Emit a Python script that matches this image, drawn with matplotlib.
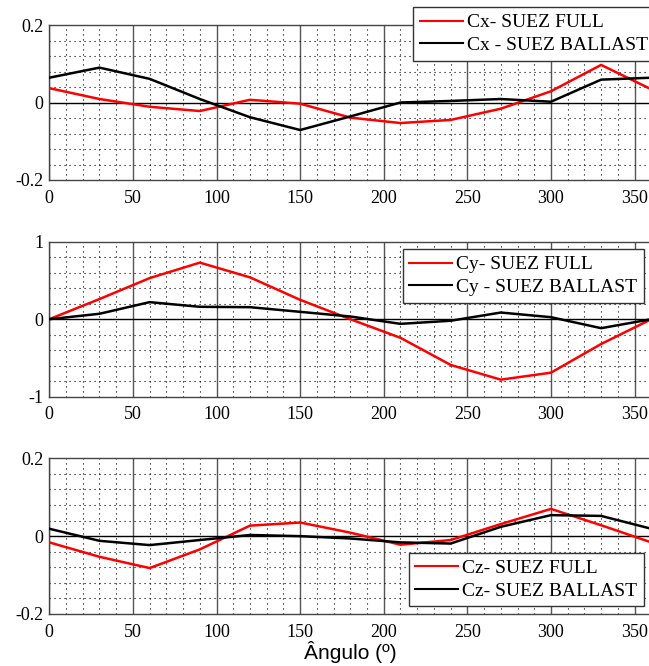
import matplotlib
matplotlib.use("Agg")
import matplotlib.pyplot as plt
from matplotlib.ticker import MultipleLocator

# Wind-load coefficients vs. heading angle, loaded and ballast condition
angles = [0, 30, 60, 90, 120, 150, 180, 210, 240, 270, 300, 330, 360]

cx_full = [0.037, 0.009, -0.011, -0.022, 0.007, -0.003, -0.039, -0.053, -0.045, -0.016, 0.029, 0.097, 0.034]
cx_ballast = [0.064, 0.090, 0.061, 0.009, -0.038, -0.071, -0.036, 0.0, 0.004, 0.009, 0.002, 0.059, 0.064]

cy_full = [0.0, 0.26, 0.53, 0.73, 0.54, 0.25, 0.0, -0.24, -0.59, -0.78, -0.69, -0.32, 0.0]
cy_ballast = [0.0, 0.07, 0.22, 0.16, 0.155, 0.095, 0.035, -0.06, -0.02, 0.086, 0.026, -0.116, 0.0]

cz_full = [-0.016, -0.053, -0.082, -0.034, 0.027, 0.035, 0.009, -0.022, -0.010, 0.031, 0.070, 0.028, -0.016]
cz_ballast = [0.019, -0.012, -0.023, -0.010, 0.003, 0.0, -0.006, -0.016, -0.019, 0.024, 0.054, 0.052, 0.019]

panels = [
    dict(full=cx_full, ballast=cx_ballast, lim=0.2, minor=0.04,
         labels=("Cx- SUEZ FULL", "Cx - SUEZ BALLAST"), anchor=(0.6045, 1.116)),
    dict(full=cy_full, ballast=cy_ballast, lim=1.0, minor=0.2,
         labels=("Cy- SUEZ FULL", "Cy - SUEZ BALLAST"), anchor=(0.587, 0.953)),
    dict(full=cz_full, ballast=cz_ballast, lim=0.2, minor=0.04,
         labels=("Cz- SUEZ FULL", "Cz- SUEZ BALLAST"), anchor=(0.597, 0.394)),
]

W, H = 649, 666
fig = plt.figure(figsize=(W / 100, H / 100), dpi=100)

serif = "Liberation Serif"
boxes_px = [(25, 180), (241.7, 396.7), (458.3, 614)]
left_px, width_px = 49.3, 602

for p, (top, bot) in zip(panels, boxes_px):
    ax = fig.add_axes([left_px / W, 1 - bot / H, width_px / W, (bot - top) / H])
    ax.set_xlim(0, 360)
    lim = p["lim"]
    ax.set_ylim(-lim, lim)

    ax.xaxis.set_major_locator(MultipleLocator(50))
    ax.xaxis.set_minor_locator(MultipleLocator(10))
    ax.yaxis.set_major_locator(MultipleLocator(lim))
    ax.yaxis.set_minor_locator(MultipleLocator(p["minor"]))

    ax.grid(which="minor", color="black", linestyle=(0, (1, 3.5)), linewidth=0.8)
    ax.grid(which="major", axis="x", color="#555555", linestyle="-", linewidth=1.0)
    ax.axhline(0, color="black", linewidth=1.0, zorder=1.5)
    ax.set_axisbelow(True)

    ax.tick_params(which="both", length=0)
    ax.tick_params(axis="x", pad=7)
    ax.tick_params(axis="y", pad=4)
    ax.set_yticks([-lim, 0, lim])
    ax.set_yticklabels([f"{-lim:g}", "0", f"{lim:g}"])
    for lab in ax.get_xticklabels() + ax.get_yticklabels():
        lab.set_fontfamily(serif)
        lab.set_fontsize(13)

    for s in ax.spines.values():
        s.set_color("#444444")
        s.set_linewidth(1.0)

    ax.plot(angles, p["full"], color="#ff0000", linewidth=1.8, label=p["labels"][0], zorder=3)
    ax.plot(angles, p["ballast"], color="black", linewidth=1.8, label=p["labels"][1], zorder=3)

    leg = ax.legend(loc="upper left", bbox_to_anchor=p["anchor"], bbox_transform=ax.transAxes,
                    prop={"family": serif, "size": 14}, frameon=True, fancybox=False,
                    borderpad=0.35, labelspacing=0.25, handlelength=2.2, handletextpad=0.2,
                    borderaxespad=0.0)
    leg.get_frame().set_edgecolor("#333333")
    leg.get_frame().set_linewidth(1.0)
    leg.get_frame().set_alpha(1.0)
    leg.set_zorder(5)
    for h in leg.get_lines():
        h.set_linewidth(1.5)

    last_ax = ax

last_ax.set_xlabel("Ângulo (º)", fontfamily="Liberation Sans", fontsize=15, labelpad=0)

fig.savefig("out.png", dpi=100)
